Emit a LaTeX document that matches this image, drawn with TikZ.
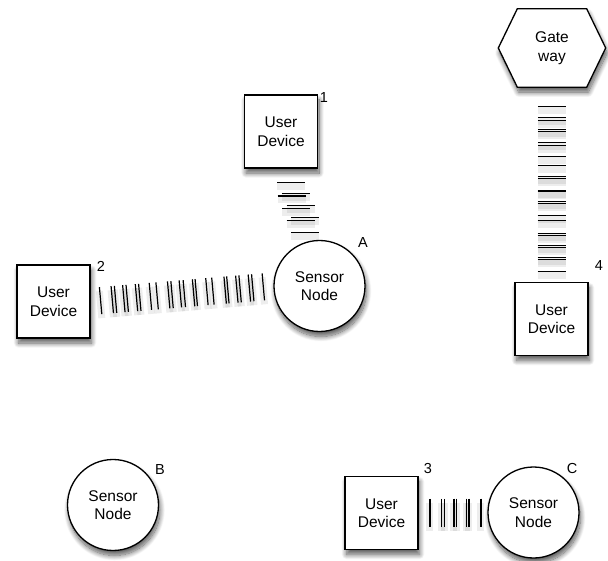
\documentclass[tikz,border=0pt]{standalone}
\usepackage{fontspec}
\setmainfont{Liberation Sans}
\usetikzlibrary{calc,shadows.blur}
\pgfdeclarelayer{background}
\pgfsetlayers{background,main}
\begin{document}
\begin{tikzpicture}[x=1pt,y=-1pt,
  shad/.style={blur shadow={shadow xshift=1.5pt,shadow yshift=-5pt,shadow blur radius=5pt,shadow blur steps=12,shadow opacity=65}},
  txt/.style={align=center,font=\fontsize{15.5}{18.5}\selectfont},
  device/.style={draw,line width=1.3pt,fill=white,minimum width=73pt,minimum height=73pt,inner sep=0pt,txt,shad},
  sensor/.style={circle,draw,line width=1.3pt,fill=white,minimum size=91pt,inner sep=0pt,txt,shad},
  gwbox/.style={minimum width=107pt,minimum height=78pt,inner sep=0pt,txt},
  hexa/.style={draw,line width=1.3pt,fill=white,line join=miter,shad},
  lbl/.style={font=\fontsize{14.5}{14.5}\selectfont,inner sep=0pt},
  tick/.style={line width=1.2pt,preaction={draw,line width=7pt,opacity=0.07,transform canvas={yshift=-4pt}}},
]
\useasboundingbox (0,0) rectangle (608,561);

% nodes
\node[device] (ud1) at (281,131.5) {User\\Device};
\node[device] (ud2) at (53.5,301.5) {User\\Device};
\node[device] (ud3) at (381.5,513) {User\\Device};
\node[device] (ud4) at (551.5,319) {User\\Device};
\node[sensor] (snA) at (319.5,286) {Sensor\\Node};
\node[sensor] (snB) at (113,505) {Sensor\\Node};
\node[sensor] (snC) at (533.5,512.5) {Sensor\\Node};
\node[gwbox] (gw) at (552,48) {Gate\\way};
\begin{pgfonlayer}{background}
\draw[hexa] (gw.west) -- ([xshift=19pt]gw.north west) -- ([xshift=-19pt]gw.north east)
  -- (gw.east) -- ([xshift=-19pt]gw.south east) -- ([xshift=19pt]gw.south west) -- cycle;
\end{pgfonlayer}

% labels
\node[lbl] (l1) at (324,98) {1};
\node[lbl] (l2) at (101,266) {2};
\node[lbl] (l3) at (428,469) {3};
\node[lbl] (l4) at (599,266) {4};
\node[lbl] (lA) at (363,243) {A};
\node[lbl] (lB) at (160,470) {B};
\node[lbl] (lC) at (572,469) {C};

% wireless links
\foreach \dx/\dy in {10.3/13.7,14.8/24.7,10.5/27.3,19.5/36.7,15.2/39.7,24/48.7,19.5/52,24/63.7}
  \draw[tick] ($(ud1.south)+(\dx,\dy)$) ++(-14,0) -- ++(28,0);

\foreach \dd in {10,21.7,25,33.3,36.7,46,49.3,60,66.7,78.3,81.7,90,94,103.3,106,116.7,122.7,135,137.7,146.7,150,159.3,162.7,173.3}
  \draw[tick] ($(ud2.east)!\dd pt!(snA.west)$) ++(-1.2,-13.5) -- ++(2.4,27);

\foreach \dd in {19,30.7,33,42.7,44.7,55.7,58,69.7,78,89.7,91.3,103,104.7,114.7,116.7,128,133.7,146,148,158.7,160.3,170.3,172,184.7}
  \draw[tick] ($(gw.south)!\dd pt!(ud4.north)$) ++(-14,0) -- ++(28,0);

\foreach \dd in {11.3,23,26,35.3,38,47.7,50.3,62.3}
  \draw[tick] ($(ud3.east)!\dd pt!(snC.west)$) ++(0,-14) -- ++(0,28);
\end{tikzpicture}
\end{document}
